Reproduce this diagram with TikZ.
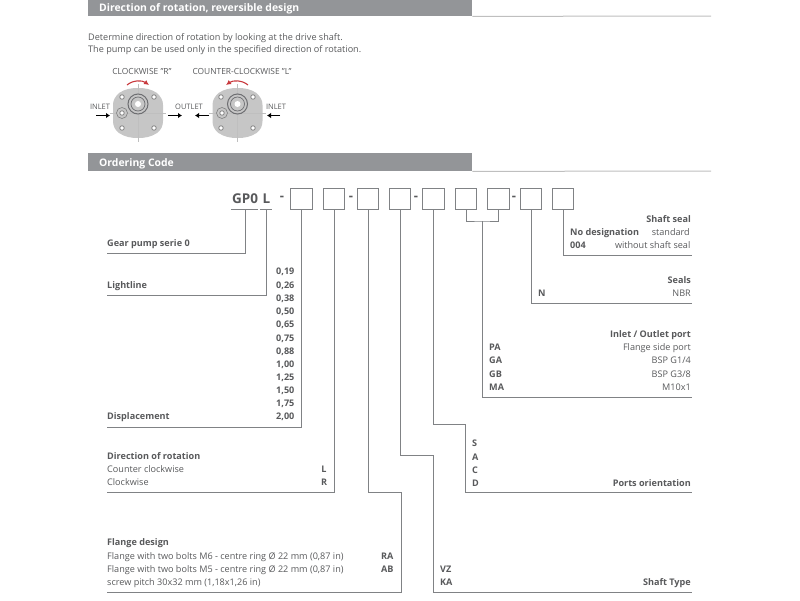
\documentclass[tikz,border=0pt]{standalone}
\usepackage{fontspec}
\setmainfont{Open Sans}
\usetikzlibrary{arrows.meta, positioning, calc}

\definecolor{barGray}{HTML}{939598}
\definecolor{lineGray}{HTML}{808285}
\definecolor{textGray}{HTML}{58595B}
\definecolor{pumpGray}{HTML}{C6C6C6}
\definecolor{ringGray}{HTML}{6D6E71}
\definecolor{arcRed}{HTML}{C8383C}

\begin{document}
\begin{tikzpicture}[
    x=1pt, y=-1pt,
    bar/.style={draw=none, fill=barGray, rectangle, anchor=north west, inner sep=0pt, minimum width=384pt},
    bartitle/.style={anchor=west, inner sep=0pt, text height=7pt, text depth=2pt, text=white, font=\fontsize{10.4}{12}\selectfont\bfseries},
    codebox/.style={draw=lineGray, line width=0.9pt, rectangle, inner sep=0pt, minimum width=21.5pt, minimum height=21pt},
    wire/.style={draw=lineGray, line width=1pt},
    txt/.style={anchor=west, inner sep=0pt, text height=7.5pt, text depth=0.5pt, text=textGray, font=\fontsize{9.1}{11}\selectfont},
    txtr/.style={txt, anchor=east},
    bld/.style={txt, font=\fontsize{9.1}{11}\selectfont\bfseries},
    bldr/.style={bld, anchor=east},
    hyph/.style={anchor=center, inner sep=0pt, text=textGray, font=\fontsize{13}{14}\selectfont\bfseries},
    code/.style={anchor=center, inner sep=0pt, text=textGray, font=\fontsize{13.5}{15}\selectfont\bfseries},
    capt/.style={anchor=center, inner sep=0pt, text=textGray, font=\fontsize{7.5}{9}\selectfont},
    captw/.style={capt, font=\fontsize{8.4}{10}\selectfont},
    body/.style={fill=pumpGray, draw=none},
    axis/.style={draw=lightgray, line width=0.4pt},
    bolt/.style={circle, draw=gray, line width=0.8pt, fill=white, inner sep=0pt, minimum size=4.5pt},
    shaft/.style={circle, draw=ringGray, line width=1pt, fill=pumpGray, inner sep=0pt, minimum size=20pt},
    shaftin/.style={circle, draw=ringGray, line width=0.7pt, fill=pumpGray, inner sep=0pt, minimum size=14pt},
    shafthole/.style={circle, draw=none, fill=white, inner sep=0pt, minimum size=6pt},
    port/.style={circle, draw=gray, line width=0.6pt, fill=pumpGray, inner sep=0pt, minimum size=11pt},
    flow/.style={-{Latex[length=4pt,width=5.5pt]}, line width=1.9pt, black},
    arcturn/.style={-{Latex[length=5pt,width=5pt]}, line width=1.1pt, arcRed}
]
\useasboundingbox (0,0) rectangle (800,600);

% Header bars
\node[bar, minimum height=16pt] (BarA) at (88,0) {};
\node[bartitle] (TitleA) at (99,9) {Direction of rotation, reversible design};
\coordinate (RuleA) at (711,16);
\draw[draw=lightgray, line width=1pt] (BarA.south east) -- (RuleA);
\node[bar, minimum height=18pt] (BarB) at (88,153) {};
\node[bartitle] (TitleB) at (99,163.5) {Ordering Code};
\coordinate (RuleB) at (711,171);
\draw[draw=lightgray, line width=1pt] (BarB.south east) -- (RuleB);

% Intro text
\node[txt] (IntroA) at (88,37) {Determine direction of rotation by looking at the drive shaft.};
\node[txt] (IntroB) at (88,49) {The pump can be used only in the specified direction of rotation.};

% Pump R
\node[captw] (CapR) at (142,71) {CLOCKWISE \symbol{34}R\symbol{34}};
\fill[body] (119,93) .. controls (125,89) and (131,88) .. (138,88) .. controls (145,88) and (151,89) .. (157,93)
    .. controls (161,97) and (163,100) .. (163,105) -- (163,121) .. controls (163,126) and (161,130) .. (157,133)
    .. controls (151,137) and (145,138) .. (138,138) .. controls (131,138) and (125,137) .. (119,133)
    .. controls (115,130) and (113,126) .. (113,121) -- (113,105) .. controls (113,100) and (115,97) .. (119,93) -- cycle;
\coordinate (RvT) at (138,84); \coordinate (RvB) at (138,142);
\coordinate (RhL) at (110,113); \coordinate (RhR) at (166,113);
\draw[axis] (RvT) -- (RvB); \draw[axis] (RhL) -- (RhR);
\node[shaft] (RS) at (138,104) {};
\node[shaftin] (RSi) at (138,104) {};
\node[shafthole] (RSh) at (138,104) {};
\node[port] (RP) at (122,113) {};
\node[bolt] (RPi) at (122,113) {};
\node[bolt] (RB1) at (122,97) {};
\node[bolt] (RB2) at (154,97) {};
\node[bolt] (RB3) at (122,128) {};
\node[bolt] (RB4) at (154,128) {};
\coordinate (RaA) at (127,85); \coordinate (RaB) at (149,85);
\draw[arcturn] (RaA) .. controls (133,80) and (142,80) .. (RaB);

% Pump L
\node[captw] (CapL) at (242,71) {COUNTER-CLOCKWISE \symbol{34}L\symbol{34}};
\fill[body] (218.5,93) .. controls (224.5,89) and (230.5,88) .. (237.5,88) .. controls (244.5,88) and (250.5,89) .. (256.5,93)
    .. controls (260.5,97) and (262.5,100) .. (262.5,105) -- (262.5,121) .. controls (262.5,126) and (260.5,130) .. (256.5,133)
    .. controls (250.5,137) and (244.5,138) .. (237.5,138) .. controls (230.5,138) and (224.5,137) .. (218.5,133)
    .. controls (214.5,130) and (212.5,126) .. (212.5,121) -- (212.5,105) .. controls (212.5,100) and (214.5,97) .. (218.5,93) -- cycle;
\coordinate (LvT) at (237.5,84); \coordinate (LvB) at (237.5,142);
\coordinate (LhL) at (209,113); \coordinate (LhR) at (266,113);
\draw[axis] (LvT) -- (LvB); \draw[axis] (LhL) -- (LhR);
\node[shaft] (LS) at (237.5,104) {};
\node[shaftin] (LSi) at (237.5,104) {};
\node[shafthole] (LSh) at (237.5,104) {};
\node[port] (LP) at (222,113) {};
\node[bolt] (LPi) at (222,113) {};
\node[bolt] (LB1) at (221,97) {};
\node[bolt] (LB2) at (253,97) {};
\node[bolt] (LB3) at (221,128) {};
\node[bolt] (LB4) at (253,128) {};
\coordinate (LaA) at (248,85); \coordinate (LaB) at (226,85);
\draw[arcturn] (LaA) .. controls (242,80) and (233,80) .. (LaB);

% Inlet and outlet
\node[capt] (InR) at (100,107) {INLET};
\node[capt] (OutR) at (189,107) {OUTLET};
\node[capt] (InL) at (276,107) {INLET};
\coordinate (F1a) at (96,115.5); \coordinate (F1b) at (110,115.5);
\coordinate (F2a) at (168,115.5); \coordinate (F2b) at (182,115.5);
\coordinate (F3a) at (209,115.5); \coordinate (F3b) at (195,115.5);
\coordinate (F4a) at (280,115.5); \coordinate (F4b) at (267,115.5);
\draw[flow] (F1a) -- (F1b);
\draw[flow] (F2a) -- (F2b);
\draw[flow] (F3a) -- (F3b);
\draw[flow] (F4a) -- (F4b);

% Code
\node[code] (GP) at (245,199) {GP0};
\node[code] (LL) at (266.5,199) {L};
\coordinate (GPa) at (231,209); \coordinate (GPb) at (258,209);
\coordinate (LLa) at (260,209); \coordinate (LLb) at (272,209);
\draw[wire] (GPa) -- (GPb);
\draw[wire] (LLa) -- (LLb);
\node[codebox] (B1) at (301.5,198.5) {};
\node[codebox] (B2) at (334,198.5) {};
\node[codebox] (B3) at (368,198.5) {};
\node[codebox] (B4) at (400,198.5) {};
\node[codebox] (B5) at (433.5,198.5) {};
\node[codebox] (B6) at (466,198.5) {};
\node[codebox] (B7) at (498.5,198.5) {};
\node[codebox] (B8) at (531,198.5) {};
\node[codebox] (B9) at (563,198.5) {};
\node[hyph] (D1) at (282,198) {-};
\node[hyph] (D2) at (351,198) {-};
\node[hyph] (D3) at (416,198) {-};
\node[hyph] (D4) at (514,198) {-};

% Leader ends
\coordinate (PGP) at (245.7,209);
\coordinate (PLL) at (266.7,209);
\coordinate (EGP) at (107,253);
\coordinate (ELL) at (107,295);
\coordinate (E1) at (107,427);
\coordinate (E2) at (107,492.5);
\coordinate (K3) at (401.5,492.5);
\coordinate (E3) at (107,592.5);
\coordinate (K4) at (433,455);
\coordinate (E4) at (692,592.5);
\coordinate (K5) at (465.5,424);
\coordinate (E5) at (692,492.5);
\coordinate (J67) at (482,221);
\coordinate (E67) at (692,397);
\coordinate (E8) at (692,303);
\coordinate (E9) at (692,255);

% Leaders
\draw[wire] (PGP) |- (EGP);
\draw[wire] (PLL) |- (ELL);
\draw[wire] (B1.south) |- (E1);
\draw[wire] (B2.south) |- (E2);
\draw[wire] (B3.south) |- (K3) |- (E3);
\draw[wire] (B4.south) |- (K4) |- (E4);
\draw[wire] (B5.south) |- (K5) |- (E5);
\draw[wire] (B6.south) |- (J67) -| (B7.south);
\draw[wire] (J67) |- (E67);
\draw[wire] (B8.south) |- (E8);
\draw[wire] (B9.south) |- (E9);

% Shaft seal
\node[bldr] (SealT) at (691,219) {Shaft seal};
\node[bld] (SealA) at (570,232) {No designation};
\node[txtr] (SealB) at (690,232) {standard};
\node[bld] (SealC) at (570,245) {004};
\node[txtr] (SealD) at (690.5,245) {without shaft seal};

% Seals
\node[bldr] (SealsT) at (691,280) {Seals};
\node[bld] (SealsN) at (538,293) {N};
\node[txtr] (SealsB) at (691,293) {NBR};

% Ports
\node[bldr] (PortT) at (691,334) {Inlet / Outlet port};
\node[bld] (PortA) at (489,347) {PA};
\node[txtr] (PortB) at (691,347) {Flange side port};
\node[bld] (PortC) at (489,360) {GA};
\node[txtr] (PortD) at (691,360) {BSP G1/4};
\node[bld] (PortE) at (489,374) {GB};
\node[txtr] (PortF) at (691,374) {BSP G3/8};
\node[bld] (PortG) at (489,387) {MA};
\node[txtr] (PortH) at (691,387) {M10x1};

% Left column
\node[bld] (Serie) at (107,243) {Gear pump serie 0};
\node[bld] (Light) at (107,285) {Lightline};
\node[bld] (V1) at (276,271) {0,19};
\node[bld] (V2) at (276,285) {0,26};
\node[bld] (V3) at (276,298) {0,38};
\node[bld] (V4) at (276,311) {0,50};
\node[bld] (V5) at (276,324) {0,65};
\node[bld] (V6) at (276,338) {0,75};
\node[bld] (V7) at (276,351) {0,88};
\node[bld] (V8) at (276,364) {1,00};
\node[bld] (V9) at (276,377) {1,25};
\node[bld] (V10) at (276,390) {1,50};
\node[bld] (V11) at (276,403) {1,75};
\node[bld] (V12) at (276,416) {2,00};
\node[bld] (Displ) at (107,416) {Displacement};

% Direction
\node[bld] (DirT) at (107,456) {Direction of rotation};
\node[txt] (DirA) at (107,469) {Counter clockwise};
\node[txt] (DirB) at (107,482) {Clockwise};
\node[bld, anchor=center] (DirL) at (324,469) {L};
\node[bld, anchor=center] (DirR) at (324,482) {R};

% Flange
\node[bld] (FlT) at (107,542) {Flange design};
\node[txt] (FlA) at (107,555.5) {Flange with two bolts M6 - centre ring Ø 22 mm (0,87 in)};
\node[txt] (FlB) at (107,568.5) {Flange with two bolts M5 - centre ring Ø 22 mm (0,87 in)};
\node[txt] (FlC) at (107,582) {screw pitch 30x32 mm (1,18x1,26 in)};
\node[bld] (FlRA) at (381,555.5) {RA};
\node[bld] (FlAB) at (381,568.5) {AB};

% Ports orientation
\node[bld] (OrS) at (472,443) {S};
\node[bld] (OrA) at (472,456.5) {A};
\node[bld] (OrC) at (472,469.5) {C};
\node[bld] (OrD) at (472,483) {D};
\node[bldr] (OrT) at (691,483) {Ports orientation};

% Shaft type
\node[bld] (TyV) at (440,569) {VZ};
\node[bld] (TyK) at (440,582) {KA};
\node[bldr] (TyT) at (691,582) {Shaft Type};

\end{tikzpicture}
\end{document}
